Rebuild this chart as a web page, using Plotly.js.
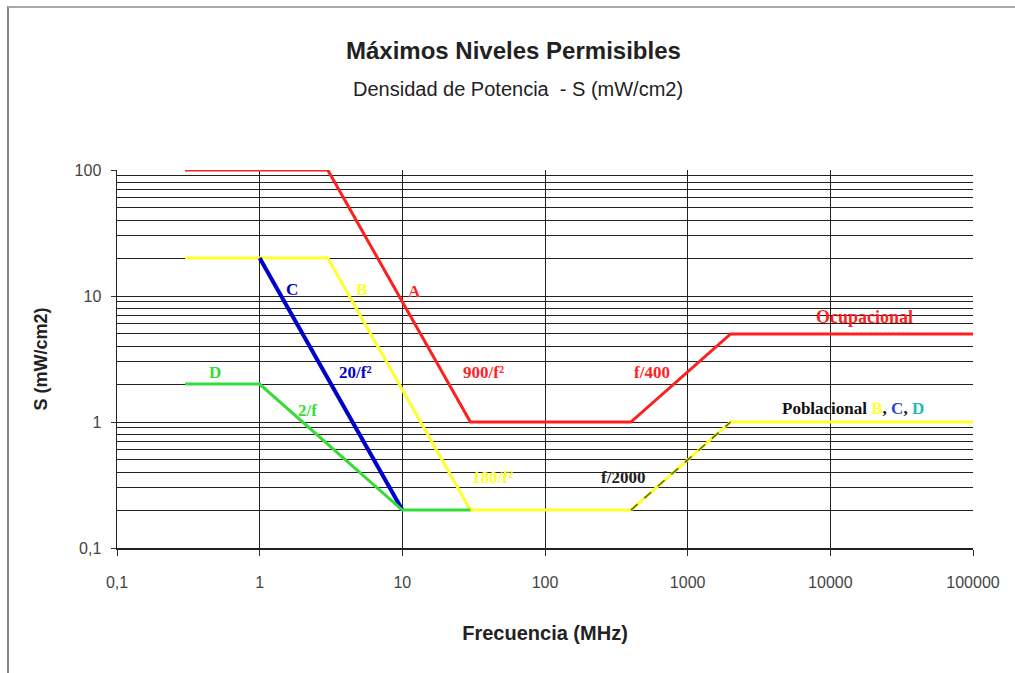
<!DOCTYPE html>
<html>
<head>
<meta charset="utf-8">
<script src="https://cdn.plot.ly/plotly-3.0.1.min.js"></script>
<style>
html,body{margin:0;padding:0;background:#fff;}
#chart{width:1015px;height:673px;}
#frame{position:absolute;left:7px;top:6px;width:1015px;height:673px;border-left:2px solid #888;border-top:2px solid #aaa;pointer-events:none;}
</style>
</head>
<body>
<div id="chart"></div>
<div id="frame"></div>
<script>
// Data (MHz, mW/cm2)
const xTickVals = [0.1, 1, 10, 100, 1000, 10000, 100000];
const xTickText = ["0,1", "1", "10", "100", "1000", "10000", "100000"];
const yTickVals = [0.1, 1, 10, 100];
const yTickText = ["0,1", "1", "10", "100"];

const ocupX = [0.3, 3, 30, 400, 2000, 100000];
const ocupY = [100, 100, 1, 1, 5, 5];
const pobBX = [0.3, 3, 30, 400, 2000, 100000];
const pobBY = [20, 20, 0.2, 0.2, 1, 1];
const pobCX = [1, 10];
const pobCY = [20, 0.2];
const pobDX = [0.3, 1, 10, 30];
const pobDY = [2, 2, 0.2, 0.2];
const f2000X = [400, 2000];
const f2000Y = [0.2, 1];

const red = "#ff1f1f", yellow = "#ffff2a", blue = "#0000cc", green = "#33dd33";
const sans = "Liberation Sans, Arial, sans-serif";

const traces = [
  {x: pobBX, y: pobBY, mode: "lines", line: {color: yellow, width: 3}},
  {x: f2000X, y: f2000Y, mode: "lines", line: {color: "#556b00", width: 1.5, dash: "dash"}},
  {x: pobCX, y: pobCY, mode: "lines", line: {color: blue, width: 4}},
  {x: pobDX, y: pobDY, mode: "lines", line: {color: green, width: 3}},
  {x: ocupX, y: ocupY, mode: "lines", line: {color: red, width: 3}}
];

const lf = (size, color) => ({family: "Liberation Serif, Times New Roman, serif", size: size, color: color});
function lab(lx, ly, text, color, size) {
  return {x: lx, y: ly, xref: "x", yref: "y", text: "<b>" + text + "</b>", showarrow: false, font: lf(size || 17, color)};
}

const annotations = [
  lab(0.226, 1.048, "C", blue),
  lab(0.717, 1.048, "B", yellow),
  lab(1.088, 1.032, "A", red),
  lab(-0.313, 0.389, "D", green),
  lab(0.668, 0.389, "20/f²", blue),
  lab(0.338, 0.095, "2/f", green),
  lab(1.572, 0.389, "900/f²", red),
  lab(2.749, 0.389, "f/400", red),
  lab(1.635, -0.444, "180/f²", yellow),
  lab(2.546, -0.444, "f/2000", "#222"),
  lab(4.242, 0.833, "Ocupacional", red, 18),
  {x: 4.158, y: 0.111, xref: "x", yref: "y", showarrow: false, font: lf(17, "#111"),
   text: "<b>Poblacional <span style='color:" + yellow + "'>B</span>, <span style='color:#3344cc'>C</span>, <span style='color:#22bbbb'>D</span></b>"},
  {x: 0.463, y: 1.317, xref: "paper", yref: "paper", yanchor: "middle", showarrow: false, text: "<b>Máximos Niveles Permisibles</b>",
   font: {family: sans, size: 24, color: "#222"}},
  {x: 0.468, y: 1.215, xref: "paper", yref: "paper", yanchor: "middle", showarrow: false, text: "Densidad de Potencia  - S (mW/cm2)",
   font: {family: sans, size: 20, color: "#222"}}
];

const layout = {
  width: 1015, height: 673,
  margin: {l: 117, r: 42, t: 170, b: 125},
  paper_bgcolor: "#fff", plot_bgcolor: "#fff",
  showlegend: false,
  xaxis: {
    type: "log", range: [-1, 5], tickvals: xTickVals, ticktext: xTickText,
    showgrid: true, gridcolor: "#222", gridwidth: 1,
    showline: true, linecolor: "#222", linewidth: 1.5,
    ticks: "outside", ticklen: 6, tickcolor: "#333",
    ticklabelstandoff: 13,
    tickfont: {family: sans, size: 16, color: "#444"},
    title: {text: "<b>Frecuencia (MHz)</b>", standoff: 36, font: {family: sans, size: 20, color: "#222"}},
    zeroline: false
  },
  yaxis: {
    type: "log", range: [-1, 2], tickvals: yTickVals, ticktext: yTickText,
    showgrid: true, gridcolor: "#222", gridwidth: 1,
    minor: {showgrid: true, gridcolor: "#222", gridwidth: 1, dtick: "D1", ticks: ""},
    showline: true, linecolor: "#222", linewidth: 1.5,
    ticks: "outside", ticklen: 5, tickcolor: "#333",
    ticklabelstandoff: 6,
    tickfont: {family: sans, size: 16, color: "#444"},
    title: {text: "<b>S (mW/cm2)</b>", standoff: 22, font: {family: sans, size: 18, color: "#222"}},
    zeroline: false
  },
  annotations: annotations
};

Plotly.newPlot("chart", traces, layout, {displayModeBar: false, staticPlot: true});
</script>
</body>
</html>
